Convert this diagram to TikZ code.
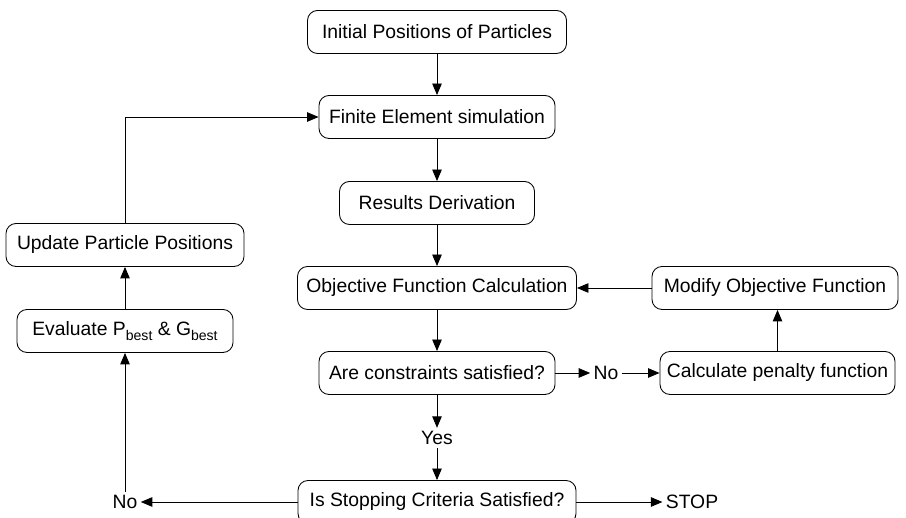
\documentclass[tikz,border=0pt]{standalone}
\usepackage{fontspec}
\setmainfont{Liberation Sans}
\usetikzlibrary{arrows.meta}

\newcommand{\lowsub}[1]{\raisebox{-0.55ex}{\fontsize{8}{9}\selectfont #1}}

\tikzset{
    box/.style={draw, rounded corners=0.2cm, minimum height=0.86cm, inner sep=0pt, font=\fontsize{11}{13}\selectfont},
    lab/.style={inner sep=0.06cm, font=\fontsize{11}{13}\selectfont}
}

\begin{document}
\begin{tikzpicture}[x=0.2cm, y=-0.2cm, line width=0.5pt, >={Triangle[length=0.23cm,width=0.19cm]}]
        \useasboundingbox (0,0) rectangle (90.6,51.8);
        \node[box, minimum width=5.18cm] (init) at (43.7,3.2) {Initial Positions of Particles};
        \node[box, minimum width=4.72cm] (fem) at (43.7,11.7) {Finite Element simulation};
        \node[box, minimum width=3.9cm] (res) at (43.7,20.3) {Results Derivation};
        \node[box, minimum width=5.58cm] (obj) at (43.7,28.8) {Objective Function Calculation};
        \node[box, minimum width=4.92cm] (mod) at (77.5,28.8) {Modify Objective Function};
        \node[box, minimum width=4.72cm] (cons) at (43.7,37.3) {Are constraints satisfied?};
        \node[lab] (no1) at (60.6,37.3) {No};
        \node[box, minimum width=4.7cm] (pen) at (77.75,37.3) {Calculate penalty function};
        \node[lab] (yes) at (43.7,43.8) {Yes};
        \node[box, minimum width=5.56cm] (stopc) at (43.7,50.2) {Is Stopping Criteria Satisfied?};
        \node[lab] (stop) at (69.2,50.2) {STOP};
        \node[lab] (no2) at (12.5,50.2) {No};
        \node[box, minimum width=4.32cm] (eval) at (12.5,33.1) {Evaluate P\lowsub{best} \& G\lowsub{best}};
        \node[box, minimum width=4.76cm] (upd) at (12.5,24.5) {Update Particle Positions};

        \draw[->] (init) -- (fem);
        \draw[->] (fem) -- (res);
        \draw[->] (res) -- (obj);
        \draw[->] (obj) -- (cons);
        \draw[->] (cons) -- (no1);
        \draw[->] (no1) -- (pen);
        \draw[->] (pen.north) -- (pen.north |- mod.south);
        \draw[->] (mod) -- (obj);
        \draw[->] (cons) -- (yes);
        \draw[->] (yes) -- (stopc);
        \draw[->] (stopc) -- (stop);
        \draw[->] (stopc) -- (no2);
        \draw[->] (no2) -- (eval);
        \draw[->] (eval) -- (upd);
        \draw[->] (upd.north) |- (fem.west);
    \end{tikzpicture}
\end{document}
